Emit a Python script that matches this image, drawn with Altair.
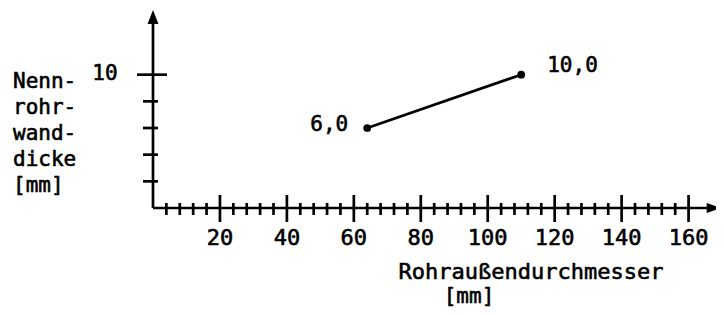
import altair as alt
import pandas as pd

# ---- data ----
x_major_ticks = [20, 40, 60, 80, 100, 120, 140, 160]
x_major_labels = ["20", "40", "60", "80", "100", "120", "140", "160"]
x_minor_ticks = [v for v in range(4, 160, 4) if v % 20 != 0]
y_minor_ticks = [2, 4, 6, 8]
y_major_ticks = [10]
y_major_labels = ["10"]

diameter = [64, 110]
wall = [6.0, 10.0]
point_labels = ["6,0", "10,0"]

y_title_lines = ["Nenn-", "rohr-", "wand-", "dicke", "[mm]"]
x_title = "Rohraußendurchmesser"
x_unit = "[mm]"

FONT = "DejaVu Sans Mono"
FS = 21
SW = 2.7

xs = alt.Scale(domain=[0, 167.6], nice=False, zero=False)
ys = alt.Scale(domain=[0, 15], nice=False, zero=False)


def X(field="x"):
    return alt.X(f"{field}:Q", scale=xs, axis=None)


def Y(field="y"):
    return alt.Y(f"{field}:Q", scale=ys, axis=None)


def txt(**kw):
    base = dict(font=FONT, fontSize=FS, fontWeight="normal", color="black",
                stroke="black", strokeWidth=0.6)
    base.update(kw)
    return base


# axis lines
xaxis = alt.Chart(pd.DataFrame({"x": [0], "x2": [166], "y": [0]})).mark_rule(
    color="black", strokeWidth=SW).encode(x=X(), x2="x2:Q", y=Y())
yaxis = alt.Chart(pd.DataFrame({"x": [0], "y": [0], "y2": [14.2]})).mark_rule(
    color="black", strokeWidth=SW).encode(x=X(), y=Y(), y2="y2:Q")

# arrowheads
arrow_y = alt.Chart(pd.DataFrame({"x": [0], "y": [14.33]})).mark_point(
    shape="M0,-1L-0.78,1L0.78,1Z", filled=True, size=196, color="black", opacity=1
).encode(x=X(), y=Y())
arrow_x = alt.Chart(pd.DataFrame({"x": [167.5], "y": [0]})).mark_point(
    shape="M1,0L-1,-0.72L-1,0.72Z", filled=True, size=196, color="black", opacity=1
).encode(x=X(), y=Y())

# ticks
xminor = alt.Chart(pd.DataFrame({"x": x_minor_ticks})).mark_rule(
    color="black", strokeWidth=SW).encode(x=X(), y=alt.value(195), y2=alt.value(207))
xmajor = alt.Chart(pd.DataFrame({"x": x_major_ticks})).mark_rule(
    color="black", strokeWidth=SW).encode(x=X(), y=alt.value(187), y2=alt.value(214))
yminor = alt.Chart(pd.DataFrame({"y": y_minor_ticks})).mark_rule(
    color="black", strokeWidth=SW).encode(y=Y(), x=alt.value(-10), x2=alt.value(5))
ymajor = alt.Chart(pd.DataFrame({"y": y_major_ticks})).mark_rule(
    color="black", strokeWidth=SW).encode(y=Y(), x=alt.value(-16), x2=alt.value(14))

# tick labels
xlabels = alt.Chart(pd.DataFrame({"x": x_major_ticks, "t": x_major_labels})).mark_text(
    **txt(fontSize=22, align="center", baseline="middle")
).encode(x=X(), y=alt.value(230), text="t:N")
ylabels = alt.Chart(pd.DataFrame({"y": y_major_ticks, "t": y_major_labels})).mark_text(
    **txt(align="center", baseline="middle", dy=-1)
).encode(y=Y(), x=alt.value(-48), text="t:N")

# data line and points
pts = pd.DataFrame({"x": diameter, "y": wall, "t": point_labels})
line = alt.Chart(pts).mark_line(color="black", strokeWidth=SW).encode(x=X(), y=Y())
dots = alt.Chart(pts).mark_point(filled=True, size=60, color="black", opacity=1).encode(x=X(), y=Y())
lab0 = alt.Chart(pts.iloc[[0]]).mark_text(
    **txt(align="right", baseline="middle", dx=-19, dy=-3)
).encode(x=X(), y=Y(), text="t:N")
lab1 = alt.Chart(pts.iloc[[1]]).mark_text(
    **txt(align="left", baseline="middle", dx=26, dy=-9)
).encode(x=X(), y=Y(), text="t:N")

# titles
ytitle = alt.Chart(pd.DataFrame({"a": [0]})).mark_text(
    **txt(align="left", baseline="alphabetic", lineHeight=26)
).encode(x=alt.value(-140), y=alt.value(80), text=alt.value(y_title_lines))
xtitle = alt.Chart(pd.DataFrame({"a": [0]})).mark_text(
    **txt(fontSize=22, align="center", baseline="alphabetic")
).encode(x=alt.value(378), y=alt.value(271), text=alt.value(x_title))
xunit = alt.Chart(pd.DataFrame({"a": [0]})).mark_text(
    **txt(fontSize=21, align="center", baseline="alphabetic")
).encode(x=alt.value(316), y=alt.value(295), text=alt.value(x_unit))

chart = alt.layer(
    xaxis, yaxis, arrow_y, arrow_x, xminor, xmajor, yminor, ymajor,
    xlabels, ylabels, line, dots, lab0, lab1, ytitle, xtitle, xunit
).properties(
    width=561, height=200,
    padding={"left": 145, "top": 0, "right": 2, "bottom": 99},
    autosize=alt.AutoSizeParams(type="none"),
    background="white",
).configure_view(stroke=None)

chart.save("out.html", embed_options={"renderer": "svg", "actions": False})
